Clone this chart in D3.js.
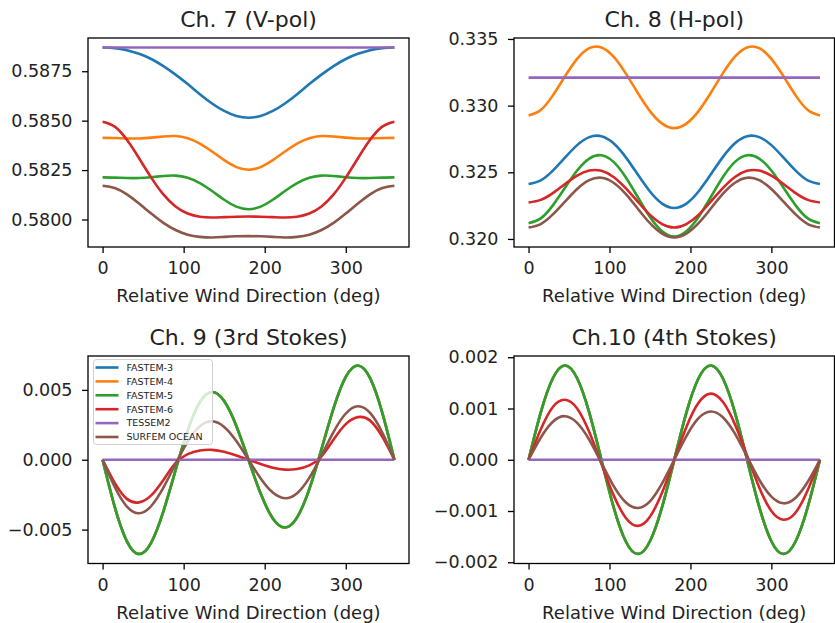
<!DOCTYPE html>
<html>
<head>
<meta charset="utf-8">
<script src="https://cdn.jsdelivr.net/npm/d3@7"></script>
<style>
    body { margin: 0; background: #fff; }
    svg { display: block; font-family: "DejaVu Sans", sans-serif; }
</style>
</head>
<body>
<svg id="chart" width="835" height="623"></svg>
<script>
"use strict";

// relative wind direction, deg
const angles = [0, 15, 30, 45, 60, 75, 90, 105, 120, 135, 150, 165, 180,
    195, 210, 225, 240, 255, 270, 285, 300, 315, 330, 345, 360];

const modelNames = ["FASTEM-3", "FASTEM-4", "FASTEM-5", "FASTEM-6", "TESSEM2", "SURFEM OCEAN"];
const modelColors = ["#1f77b4", "#ff7f0e", "#2ca02c", "#d62728", "#9467bd", "#8c564b"];

// Ch. 7 (V-pol)
const ch7Fastem3 = [0.58870, 0.58867, 0.58856, 0.58838, 0.58812, 0.58776, 0.58733, 0.58685, 0.58634, 0.58587, 0.58549, 0.58524, 0.58515,
    0.58524, 0.58549, 0.58587, 0.58634, 0.58685, 0.58733, 0.58776, 0.58812, 0.58838, 0.58856, 0.58867, 0.58870];
const ch7Fastem4 = [0.58413, 0.58412, 0.58410, 0.58410, 0.58414, 0.58420, 0.58422, 0.58411, 0.58384, 0.58344, 0.58300, 0.58265, 0.58252,
    0.58265, 0.58300, 0.58344, 0.58384, 0.58411, 0.58422, 0.58420, 0.58414, 0.58410, 0.58410, 0.58412, 0.58413];
const ch7Fastem5 = [0.58213, 0.58212, 0.58210, 0.58210, 0.58214, 0.58220, 0.58222, 0.58211, 0.58184, 0.58144, 0.58100, 0.58065, 0.58052,
    0.58065, 0.58100, 0.58144, 0.58184, 0.58211, 0.58222, 0.58220, 0.58214, 0.58210, 0.58210, 0.58212, 0.58213];
const ch7Fastem6 = [0.58495, 0.58470, 0.58403, 0.58310, 0.58212, 0.58127, 0.58066, 0.58030, 0.58014, 0.58010, 0.58012, 0.58014, 0.58015,
    0.58014, 0.58012, 0.58010, 0.58014, 0.58030, 0.58066, 0.58127, 0.58212, 0.58310, 0.58403, 0.58470, 0.58495];
const ch7Tessem2 = [0.5887, 0.5887, 0.5887, 0.5887, 0.5887, 0.5887, 0.5887, 0.5887, 0.5887, 0.5887, 0.5887, 0.5887, 0.5887,
    0.5887, 0.5887, 0.5887, 0.5887, 0.5887, 0.5887, 0.5887, 0.5887, 0.5887, 0.5887, 0.5887, 0.5887];
const ch7Surfem = [0.58171, 0.58159, 0.58127, 0.58081, 0.58030, 0.57983, 0.57947, 0.57923, 0.57912, 0.57909, 0.57912, 0.57915, 0.57916,
    0.57915, 0.57912, 0.57909, 0.57912, 0.57923, 0.57947, 0.57983, 0.58030, 0.58081, 0.58127, 0.58159, 0.58171];

// Ch. 8 (H-pol)
const ch8Fastem3 = [0.32412, 0.32439, 0.32512, 0.32610, 0.32704, 0.32764, 0.32771, 0.32718, 0.32614, 0.32483, 0.32356, 0.32265, 0.32232,
    0.32265, 0.32356, 0.32483, 0.32614, 0.32718, 0.32771, 0.32764, 0.32704, 0.32610, 0.32512, 0.32439, 0.32412];
const ch8Fastem4 = [0.32926, 0.32967, 0.33077, 0.33220, 0.33351, 0.33431, 0.33436, 0.33367, 0.33242, 0.33095, 0.32959, 0.32865, 0.32831,
    0.32865, 0.32959, 0.33095, 0.33242, 0.33367, 0.33436, 0.33431, 0.33351, 0.33220, 0.33077, 0.32967, 0.32926];
const ch8Fastem5 = [0.32118, 0.32154, 0.32252, 0.32384, 0.32513, 0.32603, 0.32628, 0.32578, 0.32463, 0.32313, 0.32165, 0.32058, 0.32018,
    0.32058, 0.32165, 0.32313, 0.32463, 0.32578, 0.32628, 0.32603, 0.32513, 0.32384, 0.32252, 0.32154, 0.32118];
const ch8Fastem6 = [0.32274, 0.32293, 0.32344, 0.32412, 0.32475, 0.32513, 0.32511, 0.32465, 0.32381, 0.32279, 0.32181, 0.32112, 0.32086,
    0.32112, 0.32181, 0.32279, 0.32381, 0.32465, 0.32511, 0.32513, 0.32475, 0.32412, 0.32344, 0.32293, 0.32274];
const ch8Tessem2 = [0.3321, 0.3321, 0.3321, 0.3321, 0.3321, 0.3321, 0.3321, 0.3321, 0.3321, 0.3321, 0.3321, 0.3321, 0.3321,
    0.3321, 0.3321, 0.3321, 0.3321, 0.3321, 0.3321, 0.3321, 0.3321, 0.3321, 0.3321, 0.3321, 0.3321];
const ch8Surfem = [0.32086, 0.32112, 0.32184, 0.32280, 0.32375, 0.32441, 0.32459, 0.32422, 0.32338, 0.32227, 0.32118, 0.32040, 0.32011,
    0.32040, 0.32118, 0.32227, 0.32338, 0.32422, 0.32459, 0.32441, 0.32375, 0.32280, 0.32184, 0.32112, 0.32086];

// Ch. 9 (3rd Stokes) - FASTEM-3/4 lie under FASTEM-5
const ch9Fastem5 = [0, -0.00338, -0.00584, -0.00675, -0.00593, -0.00370, -0.00075, 0.00210, 0.00412, 0.00485, 0.00420, 0.00242, 0,
    -0.00242, -0.00420, -0.00485, -0.00412, -0.00210, 0.00075, 0.00370, 0.00593, 0.00675, 0.00584, 0.00338, 0];
const ch9Fastem3 = ch9Fastem5;
const ch9Fastem4 = ch9Fastem5;
const ch9Fastem6 = [0, -0.00165, -0.00280, -0.00305, -0.00255, -0.00145, -0.00025, 0.00040, 0.00066, 0.00071, 0.00057, 0.00030, 0,
    -0.00030, -0.00057, -0.00071, -0.00066, -0.00040, 0.00025, 0.00145, 0.00255, 0.00305, 0.00280, 0.00165, 0];
const ch9Tessem2 = [0, 0, 0, 0, 0, 0, 0, 0, 0, 0, 0, 0, 0, 0, 0, 0, 0, 0, 0, 0, 0, 0, 0, 0, 0];
const ch9Surfem = [0, -0.00195, -0.00335, -0.00383, -0.00331, -0.00200, -0.00030, 0.00130, 0.00239, 0.00275, 0.00235, 0.00134, 0,
    -0.00134, -0.00235, -0.00275, -0.00239, -0.00130, 0.00030, 0.00200, 0.00331, 0.00383, 0.00335, 0.00195, 0];

// Ch.10 (4th Stokes)
const ch10Fastem5 = [0, 0.00092, 0.00159, 0.00184, 0.00159, 0.00092, 0, -0.00092, -0.00159, -0.00184, -0.00159, -0.00092, 0,
    0.00092, 0.00159, 0.00184, 0.00159, 0.00092, 0, -0.00092, -0.00159, -0.00184, -0.00159, -0.00092, 0];
const ch10Fastem3 = ch10Fastem5;
const ch10Fastem4 = ch10Fastem5;
const ch10Fastem6 = [0, 0.00059, 0.00103, 0.00117, 0.00100, 0.00054, -0.00008, -0.00069, -0.00113, -0.00129, -0.00111, -0.00064, 0,
    0.00064, 0.00111, 0.00129, 0.00113, 0.00069, 0.00008, -0.00054, -0.00100, -0.00117, -0.00103, -0.00059, 0];
const ch10Tessem2 = [0, 0, 0, 0, 0, 0, 0, 0, 0, 0, 0, 0, 0, 0, 0, 0, 0, 0, 0, 0, 0, 0, 0, 0, 0];
const ch10Surfem = [0, 0.00043, 0.00074, 0.00085, 0.00072, 0.00039, -0.00006, -0.00051, -0.00083, -0.00094, -0.00081, -0.00046, 0,
    0.00046, 0.00081, 0.00094, 0.00083, 0.00051, 0.00006, -0.00039, -0.00072, -0.00085, -0.00074, -0.00043, 0];

// tick labels
const xTicks = [0, 100, 200, 300];
const ch7Ticks = [0.5800, 0.5825, 0.5850, 0.5875];
const ch8Ticks = [0.320, 0.325, 0.330, 0.335];
const ch9Ticks = [-0.005, 0.000, 0.005];
const ch10Ticks = [-0.002, -0.001, 0.000, 0.001, 0.002];

const xLabel = "Relative Wind Direction (deg)";

let panels = [
    { title: "Ch. 7 (V-pol)", left: 88, top: 38, width: 321, height: 209,
      series: [ch7Fastem3, ch7Fastem4, ch7Fastem5, ch7Fastem6, ch7Tessem2, ch7Surfem],
      ticks: ch7Ticks, format: ".4f", legend: false },
    { title: "Ch. 8 (H-pol)", left: 514, top: 38, width: 320.5, height: 209,
      series: [ch8Fastem3, ch8Fastem4, ch8Fastem5, ch8Fastem6, ch8Tessem2, ch8Surfem],
      ticks: ch8Ticks, format: ".3f", legend: false },
    { title: "Ch. 9 (3rd Stokes)", left: 88, top: 356, width: 321, height: 207.5,
      series: [ch9Fastem3, ch9Fastem4, ch9Fastem5, ch9Fastem6, ch9Tessem2, ch9Surfem],
      ticks: ch9Ticks, format: ".3f", legend: true },
    { title: "Ch.10 (4th Stokes)", left: 514, top: 356, width: 320.5, height: 207.5,
      series: [ch10Fastem3, ch10Fastem4, ch10Fastem5, ch10Fastem6, ch10Tessem2, ch10Surfem],
      ticks: ch10Ticks, format: ".3f", legend: false }
];

let svg = d3.select("#chart");

// matplotlib style 5% margins
function padded(extent) {
    let pad = (extent[1] - extent[0]) * 0.05;
    return [extent[0] - pad, extent[1] + pad];
}

function drawPanel(p) {
    let g = svg.append("g").attr("transform", `translate(${p.left},${p.top})`);

    let x = d3.scaleLinear()
        .domain(padded(d3.extent(angles)))
        .range([0, p.width]);

    let y = d3.scaleLinear()
        .domain(padded(d3.extent(p.series.flat())))
        .range([p.height, 0]);

    let line = d3.line()
        .x((d, i) => x(angles[i]))
        .y(d => y(d))
        .curve(d3.curveNatural);

    g.selectAll(".curve")
        .data(p.series)
        .enter().append("path")
        .attr("class", "curve")
        .attr("d", line)
        .attr("fill", "none")
        .attr("stroke", (d, i) => modelColors[i])
        .attr("stroke-width", 2.6);

    let xAxis = g.append("g")
        .attr("transform", `translate(0,${p.height})`)
        .call(d3.axisBottom(x).tickValues(xTicks).tickSize(6).tickPadding(9).tickSizeOuter(0));

    let yAxis = g.append("g")
        .call(d3.axisLeft(y).tickValues(p.ticks).tickFormat(d3.format(p.format))
            .tickSize(6).tickPadding(9.5).tickSizeOuter(0));

    [xAxis, yAxis].forEach(a => {
        a.select(".domain").remove();
        a.selectAll("line").attr("stroke", "#000").attr("stroke-width", 1.3);
        a.selectAll("text")
            .attr("fill", "#222")
            .style("font-size", "17.5px")
            .style("font-family", "'DejaVu Sans', sans-serif");
    });

    // spines
    g.append("rect")
        .attr("width", p.width)
        .attr("height", p.height)
        .attr("fill", "none")
        .attr("stroke", "#000")
        .attr("stroke-width", 1.3);

    g.append("text")
        .attr("x", p.width / 2)
        .attr("y", -11)
        .attr("text-anchor", "middle")
        .attr("fill", "#222")
        .style("font-size", "22px")
        .text(p.title);

    g.append("text")
        .attr("x", p.width / 2)
        .attr("y", p.height + 55)
        .attr("text-anchor", "middle")
        .attr("fill", "#222")
        .style("font-size", "18px")
        .text(xLabel);

    if (p.legend) drawLegend(g);
}

function drawLegend(g) {
    let lg = g.append("g").attr("transform", "translate(5.5,3.5)");

    lg.append("rect")
        .attr("width", 119)
        .attr("height", 85)
        .attr("rx", 3)
        .attr("fill", "#fff")
        .attr("fill-opacity", 0.8)
        .attr("stroke", "#d0d0d0")
        .attr("stroke-width", 1);

    let rows = lg.selectAll(".entry")
        .data(modelNames)
        .enter().append("g")
        .attr("class", "entry")
        .attr("transform", (d, i) => `translate(0,${8 + i * 13.9})`);

    rows.append("line")
        .attr("x1", 2)
        .attr("x2", 25)
        .attr("stroke", (d, i) => modelColors[i])
        .attr("stroke-width", 2.6);

    rows.append("text")
        .attr("x", 33)
        .attr("dy", "0.35em")
        .attr("fill", "#222")
        .style("font-size", "9.5px")
        .text(d => d);
}

panels.forEach(drawPanel);
</script>
</body>
</html>
